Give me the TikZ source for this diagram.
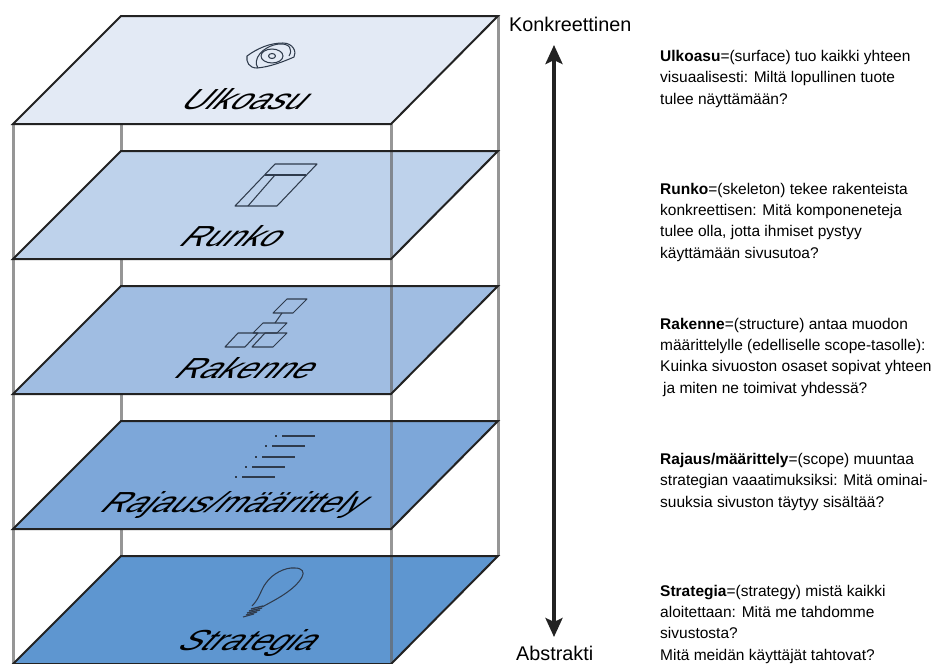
\documentclass[tikz,border=0pt]{standalone}
\usepackage{fontspec}
\setmainfont{Liberation Sans}
\usetikzlibrary{arrows.meta}
\definecolor{pA}{HTML}{E3EAF5}
\definecolor{pB}{HTML}{BED2EB}
\definecolor{pC}{HTML}{A0BDE2}
\definecolor{pD}{HTML}{7DA7D9}
\definecolor{pE}{HTML}{5E96D0}
\definecolor{edgeK}{HTML}{222222}
\definecolor{postK}{HTML}{969696}
\definecolor{iconK}{HTML}{2F3B4C}
\tikzset{
  x=1pt,y=1pt,
  stackpost/.style={draw=postK,line width=3pt},
  frontpost/.style={draw=black!60,line width=3pt,draw opacity=.68},
  edgeline/.style={draw=edgeK,line width=2pt,line join=miter},
  icon/.style={draw=iconK,line width=1.05pt,line join=round},
  layername/.style={font=\fontsize{29}{29}\selectfont\color{black},anchor=base west,inner sep=0pt,xslant=.95,xscale=1.16,transform shape},
  endlabel/.style={font=\fontsize{19.8}{22}\selectfont,anchor=base west,inner sep=0pt},
  desc/.style={font=\fontsize{15.5}{21.3}\selectfont,anchor=base west,inner sep=0pt,align=left},
  bigarrow/.style={line width=4pt,draw=edgeK,{Stealth[length=19pt,width=17pt,inset=4pt]}-{Stealth[length=19pt,width=17pt,inset=4pt]}}
}
\newcommand{\plane}[2]{%
  \fill[#2] (121,-#1) -- (498,-#1) -- (391,-#1-108) -- (13,-#1-108) -- cycle;}
\newcommand{\planeedge}[1]{%
  \draw[edgeline] (121,-#1) -- (498,-#1) -- (391,-#1-108) -- (13,-#1-108) -- cycle;}
\begin{document}
\begin{tikzpicture}
\useasboundingbox[fill=white] (0,0) rectangle (935,-664);
% posts behind
\draw[stackpost] (13,-124) -- (13,-664);
\draw[stackpost] (121,-124) -- (121,-556);
\draw[stackpost] (498,-16) -- (498,-556);
% planes
\plane{16}{pA}
\plane{151}{pB}
\plane{286}{pC}
\plane{421}{pD}
\plane{556}{pE}
\draw[frontpost] (391,-124) -- (391,-664);
\planeedge{16}
\planeedge{151}
\planeedge{286}
\planeedge{421}
\planeedge{556}
% icon: Ulkoasu
\draw[icon] (247,-56) .. controls (258,-48) and (270,-43) .. (283,-43) .. controls (293,-43) and (297,-52) .. (294,-57) .. controls (285,-61) and (270,-67) .. (257,-68) .. controls (249,-68) and (246,-62) .. (247,-56) -- cycle;
\draw[icon] (258,-68) .. controls (252,-60) and (262,-46) .. (279,-44) .. controls (290,-43) and (293,-50) .. (289,-56);
\draw[icon] (272,-56) circle[x radius=11,y radius=7];
\draw[icon] (272,-56) circle[x radius=3.5,y radius=2.5];
% icon: Runko
\draw[icon] (275,-164) -- (317,-164) -- (277,-206) -- (235,-206) -- cycle;
\draw[icon] (265,-175) -- (306,-175);
\draw[icon] (275,-175) -- (248,-206);
% icon: Rakenne
\draw[icon] (287,-299) -- (307,-299) -- (293,-313) -- (273,-313) -- cycle;
\draw[icon] (282,-313) -- (275,-323);
\draw[icon] (263,-323) -- (287,-323) -- (277,-333) -- (253,-333) -- cycle;
\draw[icon] (238,-333) -- (258,-333) -- (245,-347) -- (225,-347) -- cycle;
\draw[icon] (265,-333) -- (287,-333) -- (273,-347) -- (252,-347) -- cycle;
% icon: Rajaus
\foreach \yy/\dd in {436/275,446/265,457/255,467/245,477/235}{
  \draw[icon,line width=1.2pt] (\dd,-\yy) -- (\dd+2,-\yy);
  \draw[icon,line width=1.2pt] (\dd+7,-\yy) -- (\dd+40,-\yy);
}
% icon: Strategia
\draw[icon] (252,-606) .. controls (260,-598) and (261,-589) .. (266,-583) .. controls (272,-574) and (285,-567) .. (295,-568) .. controls (302,-568) and (305,-572) .. (302,-577) .. controls (295,-590) and (275,-600) .. (262,-607);
\draw[icon,line width=1.3pt] (251,-609) -- (263,-606);
\draw[icon,line width=1.3pt] (249,-611) -- (262,-608);
\draw[icon,line width=1.3pt] (247,-613) -- (260,-610);
\draw[icon,line width=1.3pt] (246,-615) -- (257,-612);
\draw[icon] (243,-617) -- (254,-614);
% layer names
\node[layername] (ulk) at (178,-109) {Ulkoasu};
\node[layername] (run) at (177,-246) {Runko};
\node[layername] (rak) at (172,-378) {Rakenne};
\node[layername] (raj) at (98,-512) {Rajaus/määrittely};
\node[layername] (str) at (175,-650) {Strategia};
% arrow
\node[endlabel] (konk) at (509,-31) {Konkreettinen};
\node[endlabel] (abs) at (516,-660) {Abstrakti};
\coordinate (arrtop) at (554,-45);
\coordinate (arrbot) at (554,-637);
\draw[bigarrow] (arrtop) -- (arrbot);
% descriptions (anchored at the baseline of the last line)
\node[desc] (d1) at (660,-104) {\textbf{Ulkoasu}=(surface) tuo kaikki yhteen\\visuaalisesti: Miltä lopullinen tuote\\tulee näyttämään?};
\node[desc] (d2) at (660,-258) {\textbf{Runko}=(skeleton) tekee rakenteista\\konkreettisen: Mitä komponeneteja\\tulee olla, jotta ihmiset pystyy\\käyttämään sivusutoa?};
\node[desc] (d3) at (660,-393) {\textbf{Rakenne}=(structure) antaa muodon\\määrittelylle (edelliselle scope-tasolle):\\Kuinka sivuoston osaset sopivat yhteen\\\hspace{3pt}ja miten ne toimivat yhdessä?};
\node[desc] (d4) at (660,-507) {\textbf{Rajaus/määrittely}=(scope) muuntaa\\strategian vaaatimuksiksi: Mitä ominai-\\suuksia sivuston täytyy sisältää?};
\node[desc] (d5) at (660,-660) {\textbf{Strategia}=(strategy) mistä kaikki\\aloitettaan: Mitä me tahdomme\\sivustosta?\\Mitä meidän käyttäjät tahtovat?};
\end{tikzpicture}
\end{document}
